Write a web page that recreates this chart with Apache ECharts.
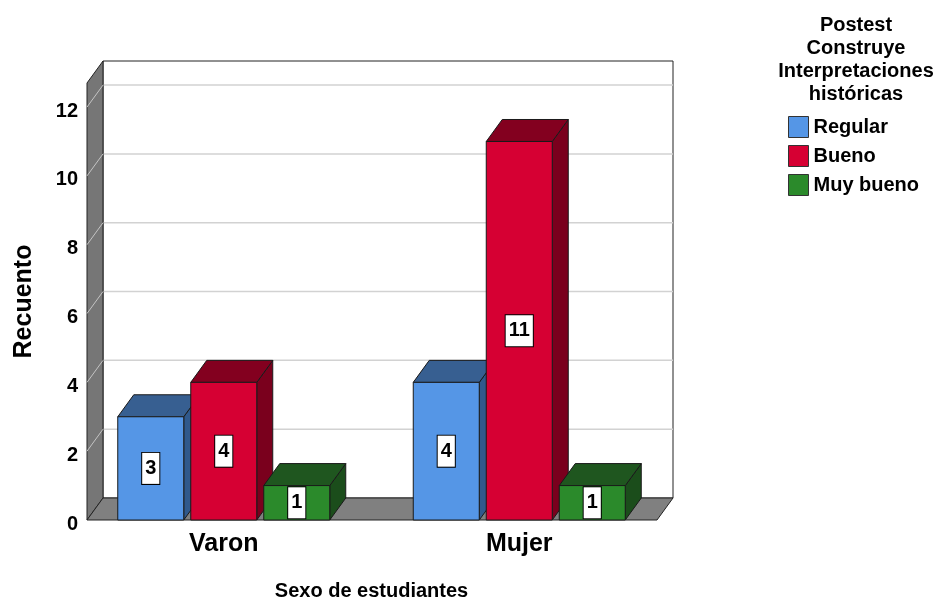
<!DOCTYPE html>
<html>
<head>
<meta charset="utf-8">
<script src="https://cdn.jsdelivr.net/npm/echarts@6/dist/echarts.min.js"></script>
<style>
  html, body { margin: 0; padding: 0; background: #fff; }
  #main { width: 941px; height: 599px; }
</style>
</head>
<body>
<div id="main"></div>
<script>
var categories = ['Varon', 'Mujer'];
var seriesNames = ['Regular', 'Bueno', 'Muy bueno'];
var regular = [3, 4];
var bueno = [4, 11];
var muyBueno = [1, 1];
var yTicks = [0, 2, 4, 6, 8, 10, 12];

var FONT = 'Liberation Sans, Arial, sans-serif';
var DX = 16, DY = -22;           // depth of the 3d look
var BAR_W = 66;
var OFFSETS = [-73, 0, 73];      // bar centres from category centre
var faces = [
    {front: '#5596e6', top: '#375f91', side: '#30598c'},
    {front: '#d60033', top: '#83001f', side: '#7a001d'},
    {front: '#2b8a2b', top: '#1f561f', side: '#1b4d1b'}
];

function toData(arr) {
    return arr.map(function (v, i) { return [i, v]; });
}

// floor, left wall, back wall and gridlines
function renderFrame(params, api) {
    var cs = params.coordSys;
    var fx0 = cs.x + 11, fx1 = cs.x + cs.width - 10;
    var fy0 = api.coord([0, 0])[1];
    var fyTop = cs.y;
    var kids = [];
    kids.push({type: 'rect', shape: {x: fx0 + DX, y: fyTop + DY, width: fx1 - fx0, height: fy0 - fyTop},
        style: {fill: '#fff', stroke: '#222', lineWidth: 1}});
    yTicks.forEach(function (t) {
        if (t === 0) return;
        var y = api.coord([0, t])[1];
        kids.push({type: 'line', shape: {x1: fx0 + DX, y1: y + DY, x2: fx1 + DX, y2: y + DY},
            style: {stroke: '#d2d2d2', lineWidth: 1.5}});
    });
    kids.push({type: 'polygon', shape: {points: [[fx0, fyTop], [fx0 + DX, fyTop + DY], [fx0 + DX, fy0 + DY], [fx0, fy0]]},
        style: {fill: '#767676', stroke: '#222', lineWidth: 1}});
    yTicks.forEach(function (t) {
        if (t === 0) return;
        var y = api.coord([0, t])[1];
        kids.push({type: 'line', shape: {x1: fx0, y1: y, x2: fx0 + DX, y2: y + DY},
            style: {stroke: '#c4c4c4', lineWidth: 1}});
    });
    kids.push({type: 'polygon', shape: {points: [[fx0, fy0], [fx1, fy0], [fx1 + DX, fy0 + DY], [fx0 + DX, fy0 + DY]]},
        style: {fill: '#808080', stroke: '#222', lineWidth: 1}});
    return {type: 'group', children: kids};
}

function barRenderer(idx) {
    var f = faces[idx];
    return function (params, api) {
        var cat = api.value(0), v = api.value(1);
        var base = api.coord([cat, 0]);
        var top = api.coord([cat, v]);
        var cx = base[0] + OFFSETS[idx];
        var x0 = cx - BAR_W / 2, x1 = cx + BAR_W / 2;
        var y0 = base[1], y1 = top[1];
        var line = {stroke: '#1a1a1a', lineWidth: 1};
        return {type: 'group', children: [
            {type: 'polygon', shape: {points: [[x1, y1], [x1 + DX, y1 + DY], [x1 + DX, y0 + DY], [x1, y0]]},
                style: Object.assign({fill: f.side}, line)},
            {type: 'polygon', shape: {points: [[x0, y1], [x1, y1], [x1 + DX, y1 + DY], [x0 + DX, y1 + DY]]},
                style: Object.assign({fill: f.top}, line)},
            {type: 'rect', shape: {x: x0, y: y1, width: BAR_W, height: y0 - y1},
                style: Object.assign({fill: f.front}, line)},
            {type: 'text', x: cx, y: (y0 + y1) / 2,
                style: {text: String(v), align: 'center', verticalAlign: 'middle', fill: '#000',
                    font: 'bold 20px ' + FONT, backgroundColor: '#fff', borderColor: '#000', borderWidth: 1,
                    padding: [6, 3, 5, 3]}}
        ]};
    };
}

var chart = echarts.init(document.getElementById('main'));

var series = [{
    type: 'custom', name: 'frame', z: 1, silent: true,
    renderItem: renderFrame, data: [[0, 0]]
}];
[regular, bueno, muyBueno].forEach(function (arr, i) {
    series.push({
        type: 'custom', name: seriesNames[i], z: 2,
        itemStyle: {color: faces[i].front},
        renderItem: barRenderer(i), data: toData(arr)
    });
});

chart.setOption({
    animation: false,
    grid: {left: 76, right: 274, top: 83, bottom: 79, outerBoundsMode: 'none', containLabel: false},
    xAxis: {
        type: 'category', data: categories,
        axisLine: {show: false}, axisTick: {show: false},
        axisLabel: {margin: 12, color: '#000', fontSize: 25, fontWeight: 'bold', fontFamily: FONT},
        name: 'Sexo de estudiantes', nameLocation: 'middle', nameGap: 61,
        nameTextStyle: {color: '#000', fontSize: 20, fontWeight: 'bold', fontFamily: FONT}
    },
    yAxis: {
        type: 'value', min: 0, max: 12.7, interval: 2, offset: -11,
        axisLine: {show: false}, axisTick: {show: false}, splitLine: {show: false},
        axisLabel: {margin: 9, color: '#000', fontSize: 20, fontWeight: 'bold', fontFamily: FONT,
            verticalAlign: 'top', lineHeight: 8,
            formatter: function (v) { return yTicks.indexOf(v) >= 0 ? String(v) : ''; }},
        name: 'Recuento', nameLocation: 'middle', nameGap: 50,
        nameTextStyle: {color: '#000', fontSize: 25, fontWeight: 'bold', fontFamily: FONT}
    },
    legend: {
        data: seriesNames, orient: 'vertical', left: 788, top: 116, padding: 0,
        icon: 'rect', itemWidth: 20, itemHeight: 21, itemGap: 7,
        itemStyle: {borderColor: '#333', borderWidth: 1},
        textStyle: {color: '#000', fontSize: 20, fontWeight: 'bold', fontFamily: FONT}
    },
    graphic: [{
        type: 'text', x: 856, y: 14,
        style: {text: 'Postest\nConstruye\nInterpretaciones\nhistóricas', align: 'center',
            fill: '#000', font: 'bold 20px ' + FONT, lineHeight: 23}
    }],
    series: series
});
</script>
</body>
</html>
